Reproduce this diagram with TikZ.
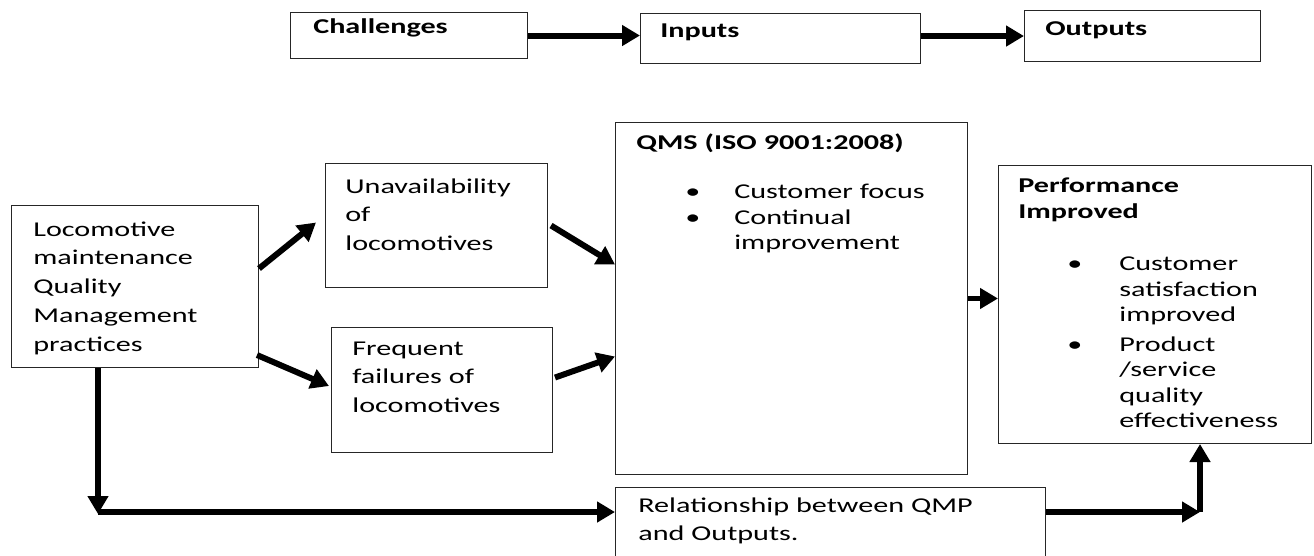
\documentclass[tikz,border=0pt]{standalone}
\usepackage{fontspec}
\setmainfont{Carlito}[FakeStretch=1.43]
\usepackage{tikz}
\usetikzlibrary{arrows.meta, positioning}
\tikzset{
    qbox/.style={
        rectangle,
        draw=black!85,
        line width=0.6pt,
        anchor=north west,
        inner sep=0pt
    },
    qtext/.style={
        anchor=base west,
        inner sep=0pt,
        text width=9cm,
        align=left,
        font={\fontsize{12}{16.4}\selectfont} % text in boxes
    },
    qtitle/.style={
        qtext,
        font={\bfseries\fontsize{12}{15.3}\selectfont}
    },
    qlist/.style={
        anchor=base west,
        inner sep=0pt,
        font={\fontsize{12}{14.5}\selectfont}
    },
    flow/.style={-{Triangle[length=3.6mm, width=4mm]}, line width=3.4pt}
}

\begin{document}
\begin{tikzpicture}[x=0.02cm, y=-0.02cm]

    \useasboundingbox (0,0) rectangle (1314,555);

    % top row
    \node[qbox, minimum width=4.74cm, minimum height=0.92cm] (chal) at (290,12) {};
    \node[qtitle] (chaltxt) at ([xshift=0.46cm, yshift=-0.44cm]chal.north west) {Challenges};

    \node[qbox, minimum width=5.6cm, minimum height=1cm] (inp) at (640,13) {};
    \node[qtitle] (inptxt) at ([xshift=0.4cm, yshift=-0.5cm]inp.north west) {Inputs};

    \node[qbox, minimum width=4.72cm, minimum height=1.02cm] (outp) at (1024,10) {};
    \node[qtitle] (outptxt) at ([xshift=0.42cm, yshift=-0.52cm]outp.north west) {Outputs};

    \draw[flow] (chal.east) -- (chal.east -| inp.west);
    \draw[flow] (inp.east |- outp.west) -- (outp.west);

    % framework
    \node[qbox, minimum width=4.94cm, minimum height=3.24cm] (loco) at (11,205) {};
    \node[qtext] (locotxt) at ([xshift=0.44cm, yshift=-0.62cm]loco.north west) {
    Locomotive\\
    maintenance\\
    Quality\\
    Management\\
    practices
    };

    \node[qbox, minimum width=4.44cm, minimum height=2.48cm] (unav) at (325,163) {};
    \node[qtext] (unavtxt) at ([xshift=0.4cm, yshift=-0.6cm]unav.north west) {
    Unavailability\\
    of\\
    locomotives
    };

    \node[qbox, minimum width=4.42cm, minimum height=2.5cm] (freq) at (331,327) {};
    \node[qtext] (freqtxt) at ([xshift=0.42cm, yshift=-0.56cm]freq.north west) {
    Frequent\\
    failures of\\
    locomotives
    };

    \node[qbox, minimum width=7.04cm, minimum height=7.04cm] (qms) at (615,122) {};
    \node[qtitle] (qmstxt) at ([xshift=0.42cm, yshift=-0.54cm]qms.north west) {QMS (ISO 9001:2008)};
    \node[qlist] (qmslist) at ([xshift=1.4cm, yshift=-1.54cm]qms.north west) {
    \begin{tabular}[t]{@{}p{0.98cm}@{}l@{}}
    \textbullet & Customer focus\\
    \textbullet & Continual\\
     & improvement
    \end{tabular}
    };

    \node[qbox, minimum width=6.26cm, minimum height=5.56cm] (perf) at (998,165) {};
    \node[qtitle] (perftxt) at ([xshift=0.4cm, yshift=-0.54cm]perf.north west) {
    Performance\\
    Improved
    };
    \node[qlist] (perflist) at ([xshift=1.38cm, yshift=-2.12cm]perf.north west) {
    \begin{tabular}[t]{@{}p{1.04cm}@{}l@{}}
    \textbullet & Customer\\
     & satisfaction\\
     & improved\\[2.3pt]
    \textbullet & Product\\
     & /service\\
     & quality\\
     & effectiveness
    \end{tabular}
    };

    \node[qbox, minimum width=8.6cm, minimum height=1.56cm] (rel) at (615,487) {};
    \node[qtext] (reltxt) at ([xshift=0.46cm, yshift=-0.5cm]rel.north west) {
    Relationship between QMP\\
    and Outputs.
    };

    \draw[flow] ([yshift=0.36cm]loco.east) -- ([xshift=-0.18cm, yshift=0.06cm]unav.west);
    \draw[flow] ([xshift=-0.04cm, yshift=0.26cm]loco.south east) -- ([xshift=-0.04cm, yshift=0.08cm]freq.west);
    \draw[flow] ([xshift=0.06cm]unav.east) -- ([yshift=0.68cm]qms.west);
    \draw[flow] ([xshift=0.04cm, yshift=0.25cm]freq.east) -- ([yshift=-1.16cm]qms.west);
    \draw[flow] (qms.east) -- (qms.east -| perf.west);

    \coordinate (lcorner) at (98,514);
    \draw[flow] (loco.south -| lcorner) -- (lcorner);
    \draw[flow] ([yshift=0.04cm]lcorner) -- ([yshift=0.04cm]lcorner -| rel.west);

    \coordinate (rcorner) at (1200,512);
    \draw[flow] (rel.east |- rcorner) -- (rcorner);
    \draw[flow] (rcorner) -- (rcorner |- perf.south);

\end{tikzpicture}
\end{document}
